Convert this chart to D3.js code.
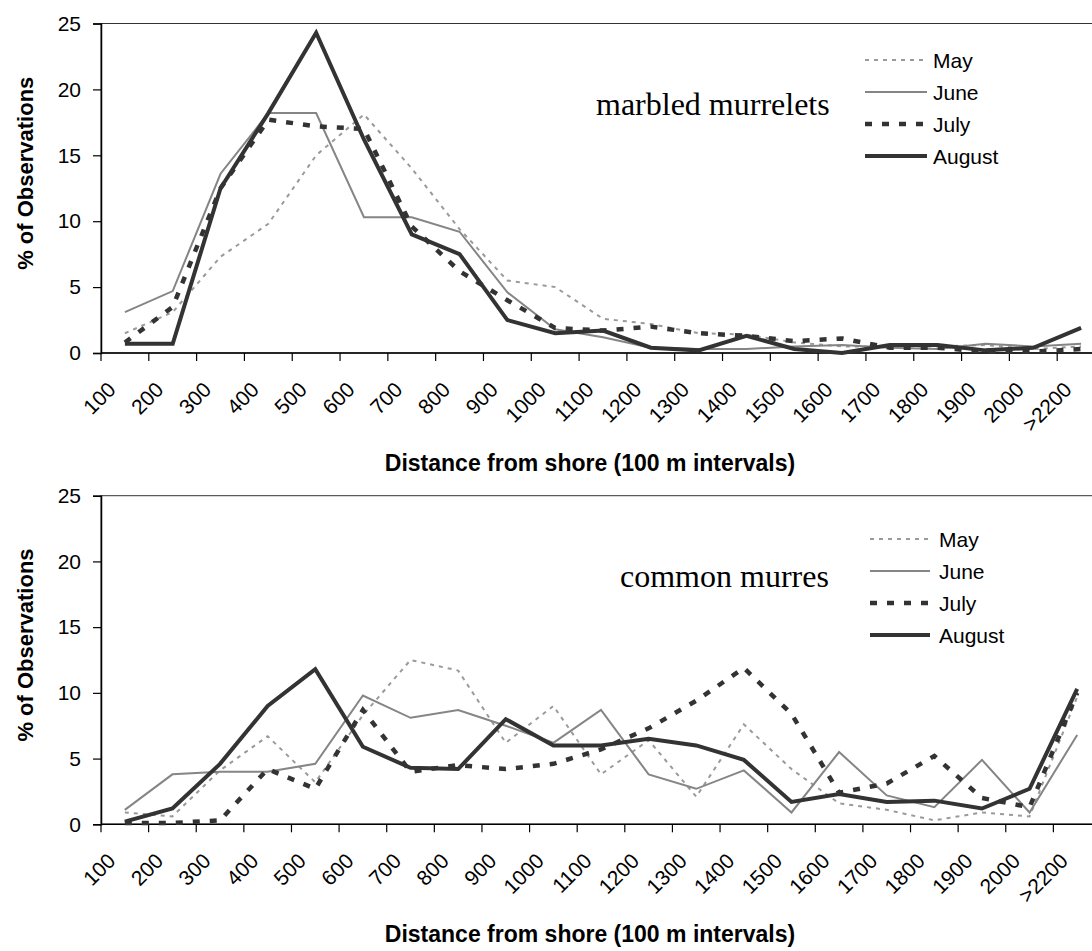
<!DOCTYPE html>
<html>
<head>
<meta charset="utf-8">
<script src="https://cdn.jsdelivr.net/npm/d3@7"></script>
<style>
  html, body { margin: 0; padding: 0; background: #fff; }
  svg { display: block; }
</style>
</head>
<body>
<svg id="chart" width="1092" height="951"></svg>
<script>
// Distance-from-shore classes (100 m intervals)
const categories = ["100","200","300","400","500","600","700","800","900","1000",
  "1100","1200","1300","1400","1500","1600","1700","1800","1900","2000",">2200"];

const months = ["May", "June", "July", "August"];
const yTicks = [0, 5, 10, 15, 20, 25];

// % of observations, marbled murrelets
const murreletMay    = [1.5, 3.1, 7.3, 9.8, 15.0, 18.1, 14.0, 9.4, 5.5, 5.0, 2.6, 2.2, 1.5, 1.4, 0.8, 0.5, 0.5, 0.5, 0.6, 0.3, 0.5];
const murreletJune   = [3.1, 4.7, 13.6, 18.2, 18.2, 10.3, 10.3, 9.2, 4.6, 1.8, 1.2, 0.4, 0.3, 0.3, 0.5, 0.6, 0.4, 0.3, 0.7, 0.5, 0.7];
const murreletJuly   = [0.8, 3.5, 12.5, 17.7, 17.2, 17.0, 9.6, 6.2, 4.0, 1.9, 1.7, 2.0, 1.5, 1.3, 0.9, 1.1, 0.4, 0.4, 0.1, 0.1, 0.3];
const murreletAugust = [0.7, 0.7, 12.5, 18.2, 24.3, 16.2, 9.0, 7.5, 2.5, 1.5, 1.7, 0.4, 0.2, 1.3, 0.3, 0.0, 0.6, 0.6, 0.2, 0.4, 1.9];

// % of observations, common murres
const murreMay    = [0.9, 0.6, 4.1, 6.7, 3.2, 8.3, 12.5, 11.7, 6.2, 9.0, 3.8, 6.4, 2.1, 7.6, 4.2, 1.6, 1.1, 0.3, 0.9, 0.6, 9.7];
const murreJune   = [1.1, 3.8, 4.0, 4.0, 4.6, 9.8, 8.1, 8.7, 7.5, 6.2, 8.7, 3.8, 2.7, 4.1, 0.9, 5.5, 2.2, 1.3, 4.9, 0.9, 6.8];
const murreJuly   = [0.1, 0.1, 0.3, 4.2, 2.7, 8.7, 4.0, 4.5, 4.2, 4.6, 5.7, 7.3, 9.4, 11.9, 8.4, 2.4, 3.1, 5.2, 2.0, 1.3, 10.0];
const murreAugust = [0.2, 1.2, 4.6, 9.0, 11.8, 5.9, 4.3, 4.2, 8.0, 6.0, 6.0, 6.5, 6.0, 4.9, 1.7, 2.3, 1.7, 1.8, 1.2, 2.7, 10.3];

// line look for each month
const monthStyle = {
  "May":    { stroke: "#9a9a9a", width: 2,   dash: "4,5" },
  "June":   { stroke: "#858585", width: 2,   dash: null },
  "July":   { stroke: "#333333", width: 4.5, dash: "7,10" },
  "August": { stroke: "#333333", width: 4,   dash: null }
};

const panels = [
  { species: "marbled murrelets",
    series: [murreletMay, murreletJune, murreletJuly, murreletAugust],
    top: 23.5, bottom: 353, left: 101, right: 1105,
    label: { x: 596, y: 115 },
    legend: { x1: 865, x2: 927, tx: 933, y0: 60, dy: 32 } },
  { species: "common murres",
    series: [murreMay, murreJune, murreJuly, murreAugust],
    top: 495.7, bottom: 824.3, left: 101, right: 1101,
    label: { x: 620, y: 587 },
    legend: { x1: 870, x2: 930, tx: 939, y0: 539, dy: 32 } }
];

const svg = d3.select("#chart");
const sans = "'Liberation Sans', Arial, sans-serif";
const serif = "'Liberation Serif', 'Times New Roman', serif";

panels.forEach(p => {
  const g = svg.append("g");
  const x = d3.scaleBand().domain(categories).range([p.left, p.right]);
  const y = d3.scaleLinear().domain([0, 25]).range([p.bottom, p.top]);
  const bw = x.bandwidth();

  // plot-area frame
  g.append("rect")
    .attr("x", p.left).attr("y", p.top)
    .attr("width", p.right - p.left).attr("height", p.bottom - p.top)
    .attr("fill", "none").attr("stroke", "#333").attr("stroke-width", 1);

  // y axis
  const yAxis = g.append("g")
    .attr("transform", `translate(${p.left},0)`)
    .call(d3.axisLeft(y).tickValues(yTicks).tickSize(8).tickPadding(12).tickFormat(d3.format("d")));
  yAxis.select(".domain").attr("stroke", "#000").attr("stroke-width", 1.5);
  yAxis.selectAll(".tick line").attr("stroke", "#000").attr("stroke-width", 1.2);
  yAxis.selectAll(".tick text").attr("font-family", sans).attr("font-size", 21).attr("fill", "#000");

  // x axis: baseline with ticks on category boundaries
  g.append("line")
    .attr("x1", p.left).attr("x2", p.right)
    .attr("y1", y(0)).attr("y2", y(0))
    .attr("stroke", "#000").attr("stroke-width", 1.5);
  g.selectAll(".xtick").data(categories.concat(["end"])).join("line")
    .attr("class", "xtick")
    .attr("x1", d => d === "end" ? p.right : x(d))
    .attr("x2", d => d === "end" ? p.right : x(d))
    .attr("y1", y(0)).attr("y2", y(0) + 8)
    .attr("stroke", "#000").attr("stroke-width", 1.2);
  g.selectAll(".xlabel").data(categories).join("text")
    .attr("class", "xlabel")
    .attr("transform", d => `translate(${x(d) + bw / 2 - 8},${y(0) + 38}) rotate(-45)`)
    .attr("text-anchor", "end")
    .attr("font-family", sans).attr("font-size", 21).attr("fill", "#000")
    .text(d => d);

  // axis titles
  g.append("text")
    .attr("transform", `translate(33,${(p.top + p.bottom) / 2 - 15}) rotate(-90)`)
    .attr("text-anchor", "middle")
    .attr("font-family", sans).attr("font-size", 22).attr("font-weight", "bold")
    .text("% of Observations");
  g.append("text")
    .attr("x", 590).attr("y", p.bottom + 118)
    .attr("text-anchor", "middle")
    .attr("font-family", sans).attr("font-size", 23).attr("font-weight", "bold")
    .text("Distance from shore (100 m intervals)");

  // month lines
  const line = d3.line()
    .x((d, i) => x(categories[i]) + bw / 2)
    .y(d => y(d));
  months.forEach((m, k) => {
    const s = monthStyle[m];
    g.append("path")
      .datum(p.series[k])
      .attr("d", line)
      .attr("fill", "none")
      .attr("stroke", s.stroke)
      .attr("stroke-width", s.width)
      .attr("stroke-dasharray", s.dash)
      .attr("stroke-linejoin", "miter");
  });

  // species label
  g.append("text")
    .attr("x", p.label.x).attr("y", p.label.y)
    .attr("font-family", serif).attr("font-size", 32).attr("fill", "#000")
    .text(p.species);

  // legend
  const lg = g.append("g");
  months.forEach((m, k) => {
    const s = monthStyle[m];
    const ly = p.legend.y0 + k * p.legend.dy;
    lg.append("line")
      .attr("x1", p.legend.x1).attr("x2", p.legend.x2)
      .attr("y1", ly).attr("y2", ly)
      .attr("stroke", s.stroke).attr("stroke-width", s.width)
      .attr("stroke-dasharray", s.dash);
    lg.append("text")
      .attr("x", p.legend.tx).attr("y", ly)
      .attr("dominant-baseline", "central")
      .attr("font-family", sans).attr("font-size", 21).attr("fill", "#000")
      .text(m);
  });
});
</script>
</body>
</html>
